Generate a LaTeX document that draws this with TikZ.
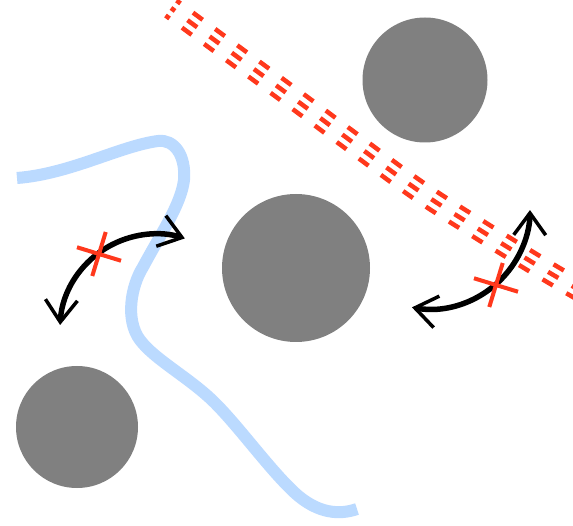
\documentclass[tikz,border=0pt]{standalone}
\usetikzlibrary{arrows.meta}
\definecolor{blobgray}{RGB}{128,128,128}
\definecolor{wireblue}{RGB}{187,218,255}
\definecolor{cutred}{RGB}{255,56,28}
\begin{document}
\begin{tikzpicture}[x=1pt,y=-1pt,
  blob/.style={circle,fill=blobgray,inner sep=0pt,outer sep=0pt},
  wire/.style={draw=wireblue,line width=12pt},
  railline/.style={draw=cutred,line width=4.5pt,dash pattern=on 12pt off 15.5pt,dash phase=7pt},
  hop/.style={draw=black,line width=5.5pt,
    arrows={Straight Barb[length=22pt,width=32pt,line width=3.5pt]-Straight Barb[length=22pt,width=32pt,line width=3.5pt]}},
  cross/.style={draw=cutred,line width=4pt}]
\useasboundingbox (0,0) rectangle (573,526);
\clip (0,0) rectangle (573,526);
\fill[white] (0,0) rectangle (573,526);

% grey discs
\node[blob,minimum size=125pt] (ctop) at (425,80) {};
\node[blob,minimum size=148pt] (cmid) at (296,268) {};
\node[blob,minimum size=122pt] (cleft) at (77,427) {};

% light blue wire
\draw[wire] (17,178) .. controls (70,174) and (120,146) .. (158,141)
  .. controls (174,139) and (186,155) .. (184,180)
  .. controls (181,205) and (160,235) .. (143,267)
  .. controls (131,286) and (125,320) .. (140,340)
  .. controls (155,360) and (190,378) .. (215,403)
  .. controls (240,428) and (270,470) .. (295,493)
  .. controls (318,514) and (340,515) .. (357,509);

% triple dashed red band
\foreach \k in {-1,0,1}
  \draw[railline,shift={({-5.5*\k},{7.5*\k})}] plot[smooth] coordinates {(171,8) (192,23.5) (300,103) (412,186) (480,230) (550,273) (595,299)};

% curved double arrows
\coordinate (la) at (156,330);
\coordinate (ra) at (430,209);
\draw[hop] (la) ++(-177:96) arc[start angle=-177,end angle=-72.5,radius=96];
\draw[hop] (ra) ++(100.4:100) arc[start angle=100.4,end angle=0.6,radius=100];

% red crosses
\coordinate (xl) at (99,254);
\coordinate (xr) at (496,285);
\foreach \c in {xl,xr}
  \draw[cross,shift={(\c)},rotate=-17] (-23,0) -- (23,0) (0,-23) -- (0,23);
\end{tikzpicture}
\end{document}
